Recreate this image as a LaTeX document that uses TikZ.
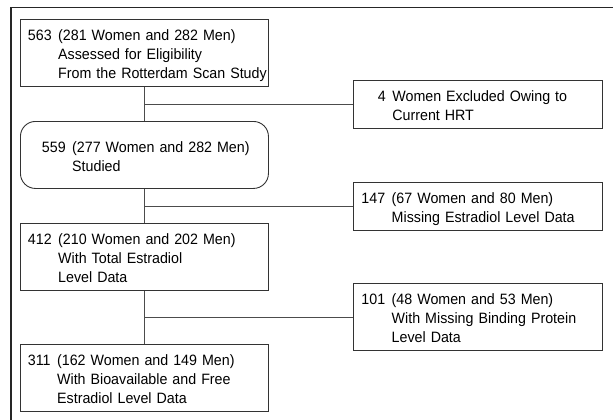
\documentclass[tikz,border=0pt]{standalone}
\usepackage{fontspec}
\setmainfont[FakeStretch=0.95]{Liberation Sans}
\usetikzlibrary{positioning}
\newcommand{\flowtext}[2]{%
  \raisebox{-3pt}[\height][\depth]{\begin{tabular}{@{}r@{\hspace{6.5pt}}l@{}}#1 & \begin{tabular}[t]{@{}l@{}}#2\end{tabular}\end{tabular}}}
\tikzset{
  Box1/.style = {
    draw = black!80, line width = 0.9pt,
    anchor = north west, align = left,
    font = \fontsize{15}{19}\selectfont,
    minimum height = 67pt, inner ysep = 0pt,
    inner xsep = 7.5pt, text width = 233pt,
  },
  Box2/.style = {
    Box1, inner xsep = 8pt, text width = 233pt,
  },
  Link1/.style = {
    draw = black!70, line width = 0.7pt,
  }
}

\begin{document}
\begin{tikzpicture}[x=1pt, y=-1pt]
  \useasboundingbox (0,0) rectangle (613,420);
  \draw[black!85, line width = 1.1pt] (11,420) -- (11,7.5) -- (613,7.5);
  % main column
  \node[Box1] (elig) at (20,19)
    {\flowtext{563}{(281 Women and 282 Men)\\Assessed for Eligibility\\From the Rotterdam Scan Study}};
  \node[Box1, rounded corners = 15pt, inner xsep = 21.5pt, text width = 205pt] (studied) at (20,121)
    {\flowtext{559}{(277 Women and 282 Men)\\Studied}};
  \node[Box1] (total) at (20,223)
    {\flowtext{412}{(210 Women and 202 Men)\\With Total Estradiol\\Level Data}};
  \node[Box1] (bioav) at (20,344)
    {\flowtext{311}{(162 Women and 149 Men)\\With Bioavailable and Free\\Estradiol Level Data}};
  % exclusions
  \node[Box2, minimum height = 48pt, inner xsep = 24.5pt, text width = 200pt] (hrt) at (353,80)
    {\flowtext{4}{Women Excluded Owing to\\Current HRT}};
  \node[Box2, minimum height = 48pt] (miss1) at (353,182)
    {\flowtext{147}{(67 Women and 80 Men)\\Missing Estradiol Level Data}};
  \node[Box2] (miss2) at (353,283)
    {\flowtext{101}{(48 Women and 53 Men)\\With Missing Binding Protein\\Level Data}};
  \draw[Link1] (elig) -- (studied);
  \draw[Link1] (studied) -- (total);
  \draw[Link1] (total) -- (bioav);
  \draw[Link1] (elig.south |- hrt.west) -- (hrt.west);
  \draw[Link1] (studied.south |- miss1.west) -- (miss1.west);
  \draw[Link1] (total.south |- miss2.west) -- (miss2.west);
\end{tikzpicture}
\end{document}
